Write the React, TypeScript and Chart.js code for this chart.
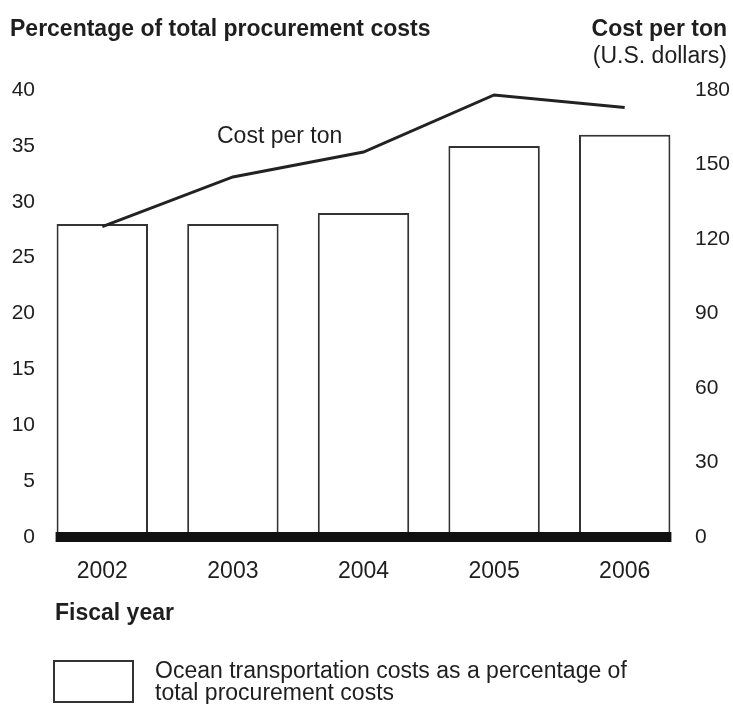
import React, { useEffect, useRef } from "react";
import { Chart, registerables } from "chart.js";

Chart.register(...registerables);

// ---- Data ----
const fiscalYears = ["2002", "2003", "2004", "2005", "2006"];
const percentOfProcurement = [28, 28, 29, 35, 36];
const costPerTon = [125, 145, 155, 178, 173];

// ---- Axis ranges ----
const leftMin = 0;
const leftMax = 40;
const leftStep = 5;
const rightMin = 0;
const rightMax = 180;
const rightStep = 30;

// ---- Text ----
const leftTitle = "Percentage of total procurement costs";
const rightTitle = ["Cost per ton", "(U.S. dollars)"];
const lineLabel = "Cost per ton";
const xTitle = "Fiscal year";
const legendLines = [
  "Ocean transportation costs as a percentage of",
  "total procurement costs",
];

const FONT = '"Liberation Sans", Arial, Helvetica, sans-serif';
const INK = "#1e1e1e";

const decorPlugin = {
  id: "decor",
  afterDatasetsDraw(chart: any) {
    const ctx = chart.ctx;
    const meta = chart.getDatasetMeta(0);
    const first = meta.data[0] as any;
    const last = meta.data[meta.data.length - 1] as any;
    const y0 = chart.scales.y.getPixelForValue(0);
    const x1 = first.x - first.width / 2 - 1;
    const x2 = last.x + last.width / 2 + 1;
    ctx.save();
    ctx.fillStyle = "#111";
    ctx.fillRect(x1, y0 - 5, x2 - x1, 10);
    ctx.restore();
  },
  afterDraw(chart: any) {
    const ctx = chart.ctx;
    ctx.save();
    ctx.fillStyle = INK;
    ctx.textBaseline = "alphabetic";

    ctx.font = `bold 23px ${FONT}`;
    ctx.textAlign = "left";
    ctx.fillText(leftTitle, 10, 36);

    ctx.textAlign = "right";
    ctx.fillText(rightTitle[0], 727, 36);
    ctx.font = `23px ${FONT}`;
    ctx.fillText(rightTitle[1], 727, 63);

    ctx.textAlign = "left";
    ctx.fillText(lineLabel, 217, 143);

    ctx.font = `bold 23px ${FONT}`;
    ctx.fillText(xTitle, 55, 620);

    // legend
    ctx.strokeStyle = "#333";
    ctx.lineWidth = 2;
    ctx.strokeRect(54, 661, 79, 41);
    ctx.font = `23px ${FONT}`;
    ctx.fillText(legendLines[0], 155, 678);
    ctx.fillText(legendLines[1], 155, 700);
    ctx.restore();
  },
};

export default function App() {
  const canvasRef = useRef<HTMLCanvasElement | null>(null);

  useEffect(() => {
    const canvas = canvasRef.current;
    if (!canvas) return;
    const chart = new Chart(canvas, {
      type: "bar",
      data: {
        labels: fiscalYears,
        datasets: [
          {
            type: "bar",
            label: "Ocean transportation costs as a percentage of total procurement costs",
            data: percentOfProcurement,
            yAxisID: "y",
            backgroundColor: "#ffffff",
            borderColor: "#333333",
            borderWidth: 2,
            barPercentage: 0.7,
            categoryPercentage: 1.0,
            order: 1,
          } as any,
          {
            type: "line",
            label: "Cost per ton",
            data: costPerTon,
            yAxisID: "y1",
            borderColor: "#222222",
            borderWidth: 3,
            pointRadius: 0,
            tension: 0,
            fill: false,
            order: 0,
          } as any,
        ],
      },
      options: {
        responsive: false,
        animation: false,
        layout: { padding: { top: 90, bottom: 0, left: 0, right: 0 } },
        plugins: {
          legend: { display: false },
          tooltip: { enabled: false },
          title: { display: false },
        },
        scales: {
          x: {
            type: "category",
            offset: true,
            grid: { display: false, drawTicks: false },
            border: { display: false },
            ticks: {
              color: INK,
              font: { family: FONT, size: 23 },
              padding: 21,
              maxRotation: 0,
            },
            afterFit: (s: any) => {
              s.height = 167;
            },
          },
          y: {
            position: "left",
            min: leftMin,
            max: leftMax,
            grid: { display: false, drawTicks: false },
            border: { display: false },
            ticks: {
              stepSize: leftStep,
              color: INK,
              font: { family: FONT, size: 21 },
              padding: 2,
            },
            afterFit: (s: any) => {
              s.width = 37;
            },
          },
          y1: {
            position: "right",
            min: rightMin,
            max: rightMax,
            grid: { display: false, drawTicks: false },
            border: { display: false },
            ticks: {
              stepSize: rightStep,
              color: INK,
              font: { family: FONT, size: 21 },
              padding: 5,
            },
            afterFit: (s: any) => {
              s.width = 43;
            },
          },
        },
      } as any,
      plugins: [decorPlugin],
    });
    return () => chart.destroy();
  }, []);

  return (
    <div style={{ position: "absolute", left: 0, top: 0, width: 733, height: 704, background: "#fff" }}>
      <canvas ref={canvasRef} width={733} height={704} style={{ display: "block" }} />
    </div>
  );
}
